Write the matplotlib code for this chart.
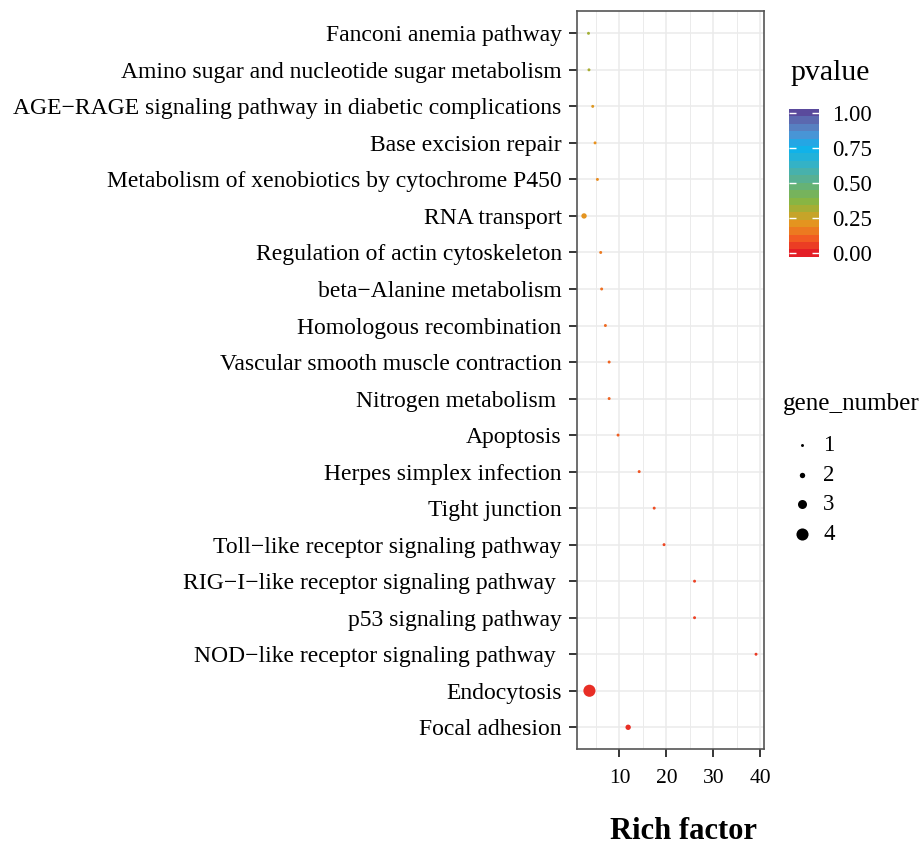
import matplotlib

matplotlib.use("Agg")
import matplotlib.pyplot as plt
import numpy as np
from matplotlib.colors import LinearSegmentedColormap, BoundaryNorm, Normalize
from matplotlib.cm import ScalarMappable

plt.rcParams.update(
    {
        "font.family": ["Liberation Serif", "DejaVu Serif"],
        "axes.unicode_minus": True,
    }
)

# pathways, top to bottom as shown
terms = [
    "Fanconi anemia pathway",
    "Amino sugar and nucleotide sugar metabolism",
    "AGE\u2212RAGE signaling pathway in diabetic complications",
    "Base excision repair",
    "Metabolism of xenobiotics by cytochrome P450",
    "RNA transport",
    "Regulation of actin cytoskeleton",
    "beta\u2212Alanine metabolism",
    "Homologous recombination",
    "Vascular smooth muscle contraction",
    "Nitrogen metabolism ",
    "Apoptosis",
    "Herpes simplex infection",
    "Tight junction",
    "Toll\u2212like receptor signaling pathway",
    "RIG\u2212I\u2212like receptor signaling pathway ",
    "p53 signaling pathway",
    "NOD\u2212like receptor signaling pathway ",
    "Endocytosis",
    "Focal adhesion",
]
rich_factor = [3.4, 3.5, 4.3, 4.8, 5.3, 2.45, 6.0, 6.2, 7.0, 7.8,
               7.8, 9.7, 14.2, 17.4, 19.5, 26.0, 26.0, 39.1, 3.6, 11.85]
pvalue = [0.32, 0.31, 0.22, 0.20, 0.19, 0.21, 0.16, 0.14, 0.13, 0.12,
          0.12, 0.11, 0.09, 0.08, 0.07, 0.06, 0.06, 0.05, 0.03, 0.03]
gene_number = [1, 1, 1, 1, 1, 2, 1, 1, 1, 1,
               1, 1, 1, 1, 1, 1, 1, 1, 4, 2]

legend_counts = [1, 2, 3, 4]
cbar_ticks = [0.0, 0.25, 0.5, 0.75, 1.0]

# marker area (pt^2) per gene count
size_map = {1: 4.5, 2: 15, 3: 42, 4: 76}

cmap = LinearSegmentedColormap.from_list(
    "pv",
    [
        (0.00, "#E41E26"),
        (0.10, "#F15A22"),
        (0.20, "#E8921E"),
        (0.27, "#C2A62A"),
        (0.35, "#8DB53C"),
        (0.45, "#6CB26A"),
        (0.55, "#50B0A0"),
        (0.65, "#2DB2CF"),
        (0.75, "#0AB2EE"),
        (0.85, "#4F92D3"),
        (0.92, "#5C75B7"),
        (1.00, "#5A4A9C"),
    ],
)
norm = Normalize(0, 1)

W, H = 922, 846
fig = plt.figure(figsize=(W / 100, H / 100), dpi=100)
ax = fig.add_axes([577 / W, (H - 749.2) / H, (764 - 577) / W, (749.2 - 11.4) / H])

ax.set_xticks([5, 15, 25, 35], minor=True)
ax.grid(True, which="major", color="#EBEBEB", lw=1.1, zorder=0)
ax.grid(True, which="minor", axis="x", color="#EBEBEB", lw=0.7, zorder=0)
ax.set_axisbelow(True)

ax.scatter(
    rich_factor[::-1],
    terms[::-1],
    s=[size_map[g] for g in gene_number[::-1]],
    c=pvalue[::-1],
    cmap=cmap,
    norm=norm,
    linewidths=0,
    zorder=3,
)
ax.set_ylim(-0.6, len(terms) - 0.4)
ax.set_xlim(0.95, 40.8)
ax.set_xticks([10, 20, 30, 40])

for s in ax.spines.values():
    s.set_color("#555555")
    s.set_linewidth(1.2)
ax.tick_params(axis="y", labelsize=17, length=6, width=1.1, pad=5, colors="black")
ax.tick_params(axis="x", which="major", labelsize=15.5, length=6, width=1.1, pad=8)
ax.tick_params(axis="x", which="minor", length=0)

fig.text(683 / W, 1 - 831 / H, "Rich factor", fontsize=22, fontweight="bold",
         ha="center", va="center")

# colour bar legend
fig.text(790 / W, 1 - 73 / H, "pvalue", fontsize=21.5, ha="left", va="center")
cax = fig.add_axes([789.3 / W, (H - 256.7) / H, 30 / W, 147.7 / H])
bounds = np.linspace(-0.025, 1.025, 21)
cb = fig.colorbar(ScalarMappable(norm=BoundaryNorm(bounds, 256), cmap=cmap), cax=cax,
                  boundaries=bounds, ticks=cbar_ticks)
cb.outline.set_visible(False)
cb.minorticks_off()
cb.set_ticklabels([f"{t:.2f}" for t in cbar_ticks])
cax.tick_params(which="major", direction="in", color="white", length=5, width=1,
                left=True, right=True, labelsize=16.5, labelcolor="black", pad=9)

# size legend
fig.text(783 / W, 1 - 404 / H, "gene_number", fontsize=18, ha="left", va="center")
handles = [ax.scatter([], [], s=size_map[g], color="black", linewidths=0) for g in legend_counts]
fig.legend(handles, [str(g) for g in legend_counts],
           loc="center left", bbox_to_anchor=(770 / W, 1 - 490 / H),
           frameon=False, fontsize=16.5, labelspacing=0.38,
           handlelength=1.0, handletextpad=0.42)

fig.savefig("out.png", dpi=100)
